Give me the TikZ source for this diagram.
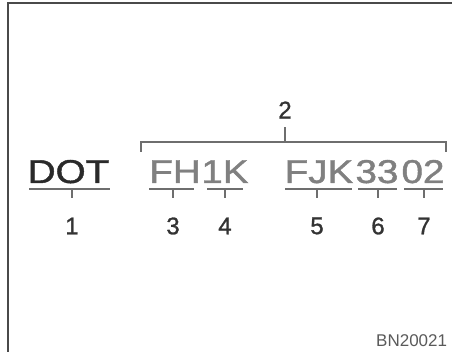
\documentclass[tikz,border=0pt]{standalone}
\usepackage{fontspec}
\setmainfont{Liberation Sans}
\newfontfamily\heavyfont[FakeBold=1.2]{Liberation Sans}
\definecolor{dotgray}{HTML}{2A2A2A}
\definecolor{codegray}{HTML}{808080}
\definecolor{numgray}{HTML}{333333}
\definecolor{figgray}{HTML}{5A5A5A}
\definecolor{linegray}{HTML}{6E6E6E}
\definecolor{framegray}{HTML}{4A4A4A}
\newcommand{\stretchx}[1]{\scalebox{1.17}[1]{#1}}
\begin{document}
\begin{tikzpicture}[x=1pt,y=-1pt,
  code/.style={anchor=base, inner sep=0pt, font=\fontsize{33}{33}\heavyfont, text=codegray},
  num/.style={inner sep=0pt, font=\fontsize{24}{24}\heavyfont, text=numgray},
  rule/.style={line width=1.6pt, draw=linegray}]
\useasboundingbox (0,0) rectangle (452,352);
\clip (0,0) rectangle (452,352);
% frame
\draw[line width=2pt, framegray] (8,352) -- (8,3.5) -- (452,3.5);
% code text
\node[code, text=dotgray] (dot) at (68.5,183) {\stretchx{DOT}};
\node[code] (fh) at (175,183) {\stretchx{FH}};
\node[code] (ik) at (225,183) {\stretchx{1K}};
\node[code] (fjk) at (319,183) {\stretchx{FJK}};
\node[code] (tt) at (377,183) {\stretchx{33}};
\node[code] (oz) at (423,183) {\stretchx{02}};
% underlines
\coordinate (u1a) at (29,189);  \coordinate (u1b) at (110,189);
\coordinate (u3a) at (149,189); \coordinate (u3b) at (194,189);
\coordinate (u4a) at (207,189); \coordinate (u4b) at (243,189);
\coordinate (u5a) at (285,189); \coordinate (u5b) at (352,189);
\coordinate (u6a) at (358,189); \coordinate (u6b) at (397,189);
\coordinate (u7a) at (404,189); \coordinate (u7b) at (443,189);
\draw[rule] (u1a) -- (u1b);
\draw[rule] (u3a) -- (u3b);
\draw[rule] (u4a) -- (u4b);
\draw[rule] (u5a) -- (u5b);
\draw[rule] (u6a) -- (u6b);
\draw[rule] (u7a) -- (u7b);
% ticks
\coordinate (t1) at (72,189);  \coordinate (e1) at (72,198);
\coordinate (t3) at (173,189); \coordinate (e3) at (173,198);
\coordinate (t4) at (225,189); \coordinate (e4) at (225,198);
\coordinate (t5) at (317,189); \coordinate (e5) at (317,198);
\coordinate (t6) at (378,189); \coordinate (e6) at (378,198);
\coordinate (t7) at (424,189); \coordinate (e7) at (424,198);
\draw[rule] (t1) -- (e1);
\draw[rule] (t3) -- (e3);
\draw[rule] (t4) -- (e4);
\draw[rule] (t5) -- (e5);
\draw[rule] (t6) -- (e6);
\draw[rule] (t7) -- (e7);
% numbers
\node[num] (n1) at (72,226) {1};
\node[num] (n3) at (173,226) {3};
\node[num] (n4) at (225,226) {4};
\node[num] (n5) at (317,226) {5};
\node[num] (n6) at (378,226) {6};
\node[num] (n7) at (424,226) {7};
% bracket
\coordinate (bl) at (141,152); \coordinate (br) at (446,152);
\coordinate (bm) at (285,142); \coordinate (bt) at (285,127);
\draw[rule] (bl) |- (bm) -| (br);
\draw[rule] (bm) -- (bt);
\node[num] (n2) at (285,110) {2};
% figure code
\node[anchor=base west, inner sep=0pt, font=\fontsize{17}{17}\selectfont, text=figgray] (fig) at (376,346) {BN20021};
\end{tikzpicture}
\end{document}
